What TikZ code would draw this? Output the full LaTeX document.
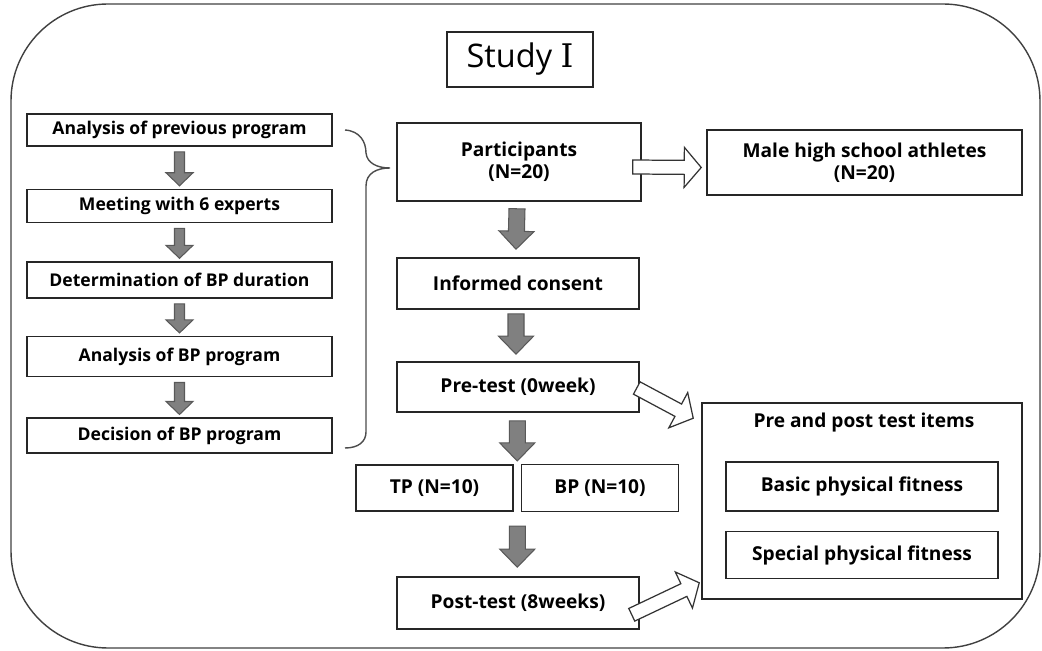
\documentclass[tikz,border=0pt]{standalone}
\usepackage{fontspec}
\setmainfont{Open Sans}
\newfontfamily\numeralfont{DejaVu Serif}
\usepackage{xcolor}
\usepackage{tikz}
\usetikzlibrary{calc, positioning}

\tikzset{
  box/.style={draw=black!85, line width=0.9pt, inner sep=0pt, align=center,
    font=\bfseries\fontsize{10.9}{12.5}\selectfont},
  leftbox/.style={box, minimum width=6.1cm, font=\bfseries\fontsize{10}{12}\selectfont},
  midbox/.style={box, minimum width=4.84cm},
  titlebox/.style={draw=black!85, line width=0.9pt, inner sep=0pt,
    minimum width=2.92cm, minimum height=1.1cm, font=\fontsize{18.5}{22}\selectfont},
  frame/.style={draw=black!75, line width=0.8pt, rounded corners=1.94cm},
  grayarrow/.style={draw=black!65, fill=black!50, line width=0.6pt},
  whitearrow/.style={draw=black!80, fill=white, line width=0.7pt},
}

% block arrow: style, from, to, shaft half width, head half width, head length
\newcommand{\blockarrow}[6]{%
  \coordinate (ba-s) at (#2);
  \coordinate (ba-e) at (#3);
  \coordinate (ba-h) at ($(ba-e)!#6!(ba-s)$);
  \draw[#1] ($(ba-s)!#4!90:(ba-e)$) -- ($(ba-h)!#4!90:(ba-e)$)
    -- ($(ba-h)!#5!90:(ba-e)$) -- (ba-e) -- ($(ba-h)!#5!-90:(ba-e)$)
    -- ($(ba-h)!#4!-90:(ba-e)$) -- ($(ba-s)!#4!-90:(ba-e)$) -- cycle;
}

\begin{document}
\begin{tikzpicture}[x=0.02cm, y=-0.02cm]
    \useasboundingbox (0,0) rectangle (1042,651);
    \draw[frame] (11,4) rectangle (1040,648);
    \node (study) [titlebox] at (520,59.5) {Study {\numeralfont Ⅰ}};
    % program development
    \node (a1) [leftbox, minimum height=0.64cm] at (179.5,130) {Analysis of previous program};
    \node (a2) [leftbox, minimum height=0.66cm, below=0.84cm of a1] {Meeting with 6 experts};
    \node (a3) [leftbox, minimum height=0.72cm, below=0.76cm of a2] {Determination of BP duration};
    \node (a4) [leftbox, minimum height=0.8cm, below=0.74cm of a3] {Analysis of BP program};
    \node (a5) [leftbox, minimum height=0.7cm, below=0.8cm of a4] {Decision of BP program};
    \foreach \i/\j in {1/2, 2/3, 3/4, 4/5}
      \blockarrow{grayarrow}{$(a\i.south)+(0,5)$}{$(a\j.north)+(0,-3)$}{0.1cm}{0.27cm}{0.26cm};
    \draw[black!70, line width=0.8pt]
    (345,130) .. controls (360,131) and (366,142) .. (366,153)
    .. controls (367,163) and (377,168) .. (390,168)
    .. controls (377,168) and (366,173) .. (366,186)
    -- (366,432) .. controls (366,442) and (358,448) .. (345,448);
    % study design
    \node (part) [midbox, minimum width=4.88cm, minimum height=1.56cm] at (519,162) {Participants\\(N=20)};
    \node (male) [box, minimum width=6.3cm, minimum height=1.3cm] at (864.5,162.5) {Male high school athletes\\(N=20)};
    \node (consent) [midbox, minimum height=1.02cm] at (518,283.5) {Informed consent};
    \node (pre) [midbox, minimum height=1cm] at (518,387) {Pre-test (0week)};
    \node (tp) [box, minimum width=3.14cm, minimum height=0.92cm] at (434.5,488) {TP (N=10)};
    \node (bp) [box, minimum width=3.14cm, minimum height=0.94cm, right=0.14cm of tp] {BP (N=10)};
    \node (post) [midbox, minimum height=1.04cm] at (518,603) {Post-test (8weeks)};
    \coordinate (split) at ($(tp.north east)!0.5!(bp.north west)$);
    \coordinate (join) at ($(tp.south east)!0.5!(bp.south west)$);
    \blockarrow{grayarrow}{$(part.south)+(-2,7)$}{$(consent.north)+(-2,-8)$}{0.16cm}{0.35cm}{0.36cm};
    \blockarrow{grayarrow}{$(consent.south)+(-2,4)$}{$(pre.north)+(-2,-7)$}{0.16cm}{0.35cm}{0.36cm};
    \blockarrow{grayarrow}{$(split |- pre.south)+(0,8)$}{$(split)+(0,-3)$}{0.16cm}{0.35cm}{0.36cm};
    \blockarrow{grayarrow}{$(join)+(0,14)$}{$(join |- post.north)+(0,-9)$}{0.16cm}{0.35cm}{0.36cm};
    % test items
    \node (items) [draw=black!85, line width=0.9pt, minimum width=6.4cm, minimum height=3.92cm] at (862,501) {};
    \node (itemstitle) [font=\bfseries\fontsize{10.9}{12.5}\selectfont] at (864,423) {Pre and post test items};
    \node (basic) [box, minimum width=5.44cm, minimum height=0.98cm] at (862,486.5) {Basic physical fitness};
    \node (special) [box, minimum width=5.44cm, minimum height=0.94cm, below=0.38cm of basic] {Special physical fitness};
    \blockarrow{whitearrow}{$(part.east)+(-9,5)$}{$(male.west)+(-5,5)$}{0.14cm}{0.4cm}{0.34cm};
    \blockarrow{whitearrow}{$(pre.east)+(-3,1)$}{$(items.north west)+(-8,16)$}{0.14cm}{0.4cm}{0.34cm};
    \blockarrow{whitearrow}{$(post.south east)+(-8,-15)$}{$(items.south west)+(-2,-17)$}{0.14cm}{0.4cm}{0.34cm};
\end{tikzpicture}
\end{document}
